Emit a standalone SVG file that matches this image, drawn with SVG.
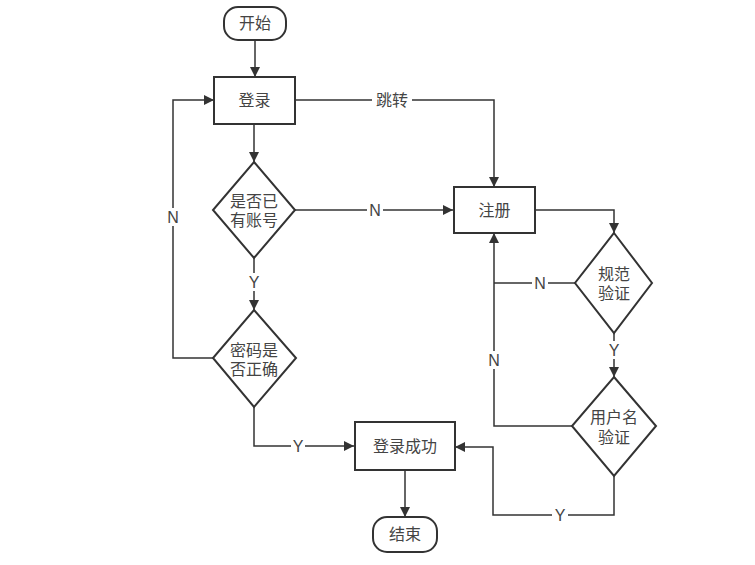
<svg xmlns="http://www.w3.org/2000/svg" width="755" height="565" viewBox="0 0 755 565">
<defs>
<marker id="arr" viewBox="0 0 10 10" refX="10" refY="5" markerWidth="10" markerHeight="10" markerUnits="userSpaceOnUse" orient="auto">
<path d="M0,0 L10,5 L0,10 Z" fill="#333"/>
</marker>
<style>
.n{fill:#fff;stroke:#333;stroke-width:2}
.t{font-family:"Liberation Sans","Noto Sans CJK SC",sans-serif;font-size:16px;fill:#444;text-anchor:middle;dominant-baseline:central}
.c{fill:none;stroke:#333;stroke-width:1.5}
.bg{fill:#fff}
</style>
</defs>
<rect width="755" height="565" fill="#fff"/>
<g id="connectors">
<path class="c" d="M255,40 V77" marker-end="url(#arr)"/>
<path class="c" d="M295,100 H494 V187" marker-end="url(#arr)"/>
<path class="c" d="M254,124 V162" marker-end="url(#arr)"/>
<path class="c" d="M213,358 H173 V100 H214" marker-end="url(#arr)"/>
<path class="c" d="M254,258 V310" marker-end="url(#arr)"/>
<path class="c" d="M295,210 H453" marker-end="url(#arr)"/>
<path class="c" d="M535,210 H614 V233" marker-end="url(#arr)"/>
<path class="c" d="M575,283 H494"/>
<path class="c" d="M572,426 H494 V233" marker-end="url(#arr)"/>
<path class="c" d="M614,333 V377" marker-end="url(#arr)"/>
<path class="c" d="M614,476 V515 H493 V447 H455" marker-end="url(#arr)"/>
<path class="c" d="M254,407 V446 H354" marker-end="url(#arr)"/>
<path class="c" d="M405,470 V517" marker-end="url(#arr)"/>
<rect class="bg" x="372" y="91" width="40" height="18"/>
<text class="t" x="392" y="100">跳转</text>
<rect class="bg" x="166" y="208" width="14" height="18"/>
<text class="t" x="173" y="217">N</text>
<rect class="bg" x="247" y="273" width="14" height="18"/>
<text class="t" x="254" y="282">Y</text>
<rect class="bg" x="367" y="201" width="16" height="18"/>
<text class="t" x="375" y="210">N</text>
<rect class="bg" x="532" y="274" width="16" height="18"/>
<text class="t" x="540" y="283">N</text>
<rect class="bg" x="487" y="351" width="14" height="18"/>
<text class="t" x="494" y="360">N</text>
<rect class="bg" x="607" y="341" width="14" height="18"/>
<text class="t" x="614" y="350">Y</text>
<rect class="bg" x="291" y="437" width="14" height="18"/>
<text class="t" x="298" y="446">Y</text>
<rect class="bg" x="552" y="506" width="16" height="18"/>
<text class="t" x="560" y="515">Y</text>
</g>
<g id="start">
<rect class="n" x="224" y="7" width="62" height="33" rx="14"/>
<text class="t" x="255" y="23.5">开始</text>
</g>
<g id="login">
<rect class="n" x="214" y="77" width="81" height="47"/>
<text class="t" x="254.5" y="100.5">登录</text>
</g>
<g id="hasAccount">
<path class="n" d="M254,162 L295,210 L254,258 L213,210 Z"/>
<text class="t" x="254" y="201">是否已</text>
<text class="t" x="254" y="220">有账号</text>
</g>
<g id="pwdCheck">
<path class="n" d="M254,310 L296,358 L254,407 L213,358 Z"/>
<text class="t" x="254" y="350">密码是</text>
<text class="t" x="254" y="369">否正确</text>
</g>
<g id="register">
<rect class="n" x="454" y="187" width="81" height="46"/>
<text class="t" x="494.5" y="210">注册</text>
</g>
<g id="formatCheck">
<path class="n" d="M614,233 L652,283 L614,333 L575,283 Z"/>
<text class="t" x="614" y="274">规范</text>
<text class="t" x="614" y="293">验证</text>
</g>
<g id="userCheck">
<path class="n" d="M614,377 L656,426 L614,476 L572,426 Z"/>
<text class="t" x="614" y="417">用户名</text>
<text class="t" x="614" y="437">验证</text>
</g>
<g id="loginSuccess">
<rect class="n" x="355" y="422" width="100" height="48"/>
<text class="t" x="405" y="446">登录成功</text>
</g>
<g id="end">
<rect class="n" x="373" y="517" width="64" height="35" rx="14"/>
<text class="t" x="405" y="534.5">结束</text>
</g>
</svg>
